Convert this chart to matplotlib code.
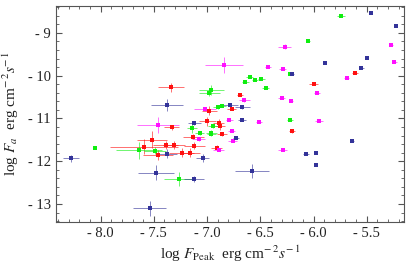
import matplotlib
matplotlib.use('Agg')
import matplotlib.pyplot as plt
from matplotlib.ticker import MultipleLocator, FuncFormatter

plt.rcParams['font.family'] = ['Liberation Serif', 'DejaVu Serif']
plt.rcParams['mathtext.fontset'] = 'stix'

# red sample: log F_peak, log F_a and their errors
red_x = [-5.61, -6.00, -6.69, -6.20, -6.91, -7.34, -7.33, -6.77, -6.98, -7.00, -6.89, -6.88,
         -6.86, -7.52, -7.59, -7.39, -7.46, -7.24, -7.16, -7.12, -7.13, -7.31]
red_y = [-9.93, -10.19, -10.45, -11.30, -11.68, -10.27, -11.21, -10.78, -10.82, -11.07, -11.11, -11.18,
         -11.36, -11.50, -11.66, -11.62, -11.85, -11.80, -11.80, -11.64, -11.43, -11.62]
red_xerr = [0.03, 0.04, 0.03, 0.03, 0.05, 0.12, 0.07, 0.04, 0.07, 0.08, 0.05, 0.05,
            0.05, 0.14, 0.32, 0.12, 0.14, 0.12, 0.09, 0.10, 0.10, 0.10]
red_yerr = [0.0, 0.03, 0.03, 0.03, 0.05, 0.10, 0.05, 0.03, 0.10, 0.10, 0.10, 0.10,
            0.05, 0.20, 0.18, 0.10, 0.12, 0.10, 0.10, 0.08, 0.06, 0.10]

# green sample
green_x = [-5.74, -6.05, -6.22, -6.60, -6.64, -6.55, -6.49, -6.45, -6.22, -6.96, -6.98,
           -6.86, -6.90, -7.14, -6.94, -6.96, -7.07, -6.96, -8.05, -7.64, -7.49, -7.26]
green_y = [-8.60, -9.19, -9.97, -10.02, -10.15, -10.11, -10.07, -10.28, -11.03, -10.33, -10.40,
           -10.70, -10.74, -11.23, -11.18, -11.33, -11.35, -11.36, -11.70, -11.74, -11.75, -12.42]
green_xerr = [0.035, 0.02, 0.02, 0.03, 0.03, 0.03, 0.03, 0.03, 0.03, 0.12, 0.10,
              0.04, 0.04, 0.05, 0.05, 0.05, 0.04, 0.04, 0.0, 0.22, 0.10, 0.14]
green_yerr = [0.0, 0.02, 0.02, 0.03, 0.03, 0.02, 0.02, 0.02, 0.02, 0.12, 0.08,
              0.03, 0.03, 0.10, 0.05, 0.05, 0.04, 0.04, 0.0, 0.20, 0.08, 0.16]

# magenta sample
mag_x = [-6.27, -5.27, -6.84, -6.43, -5.24, -6.29, -5.69, -5.97, -6.65, -6.30, -6.21,
         -5.95, -6.29, -6.89, -6.76, -7.46, -7.02, -6.79, -6.51, -7.08, -6.77]
mag_y = [-9.32, -9.29, -9.75, -9.79, -9.69, -9.85, -10.05, -10.40, -10.57, -10.52, -10.59,
         -11.07, -11.74, -11.73, -11.53, -11.15, -10.78, -11.04, -11.08, -11.49, -11.29]
mag_xerr = [0.06, 0.02, 0.18, 0.03, 0.02, 0.03, 0.02, 0.03, 0.05, 0.03, 0.02,
            0.04, 0.04, 0.05, 0.04, 0.20, 0.10, 0.03, 0.03, 0.06, 0.03]
mag_yerr = [0.05, 0.0, 0.18, 0.02, 0.0, 0.02, 0.0, 0.0, 0.04, 0.0, 0.0,
            0.02, 0.02, 0.03, 0.03, 0.19, 0.05, 0.02, 0.02, 0.04, 0.02]

# blue sample
blue_x = [-5.46, -5.225, -5.89, -5.50, -5.55, -6.20, -5.64, -6.07, -5.98, -5.98, -6.58, -6.73,
          -7.38, -7.12, -6.78, -6.67, -6.67, -8.28, -7.38, -7.48, -7.54, -7.12, -7.04]
blue_y = [-8.54, -8.85, -9.70, -9.58, -9.82, -9.97, -11.52, -11.82, -11.80, -12.10, -12.23, -11.46,
          -10.68, -11.11, -10.68, -10.74, -11.04, -11.93, -11.82, -12.27, -13.10, -12.42, -11.93]
blue_xerr = [0.0, 0.0, 0.0, 0.0, 0.02, 0.02, 0.02, 0.03, 0.0, 0.0, 0.16, 0.03,
             0.15, 0.06, 0.07, 0.07, 0.04, 0.075, 0.10, 0.165, 0.155, 0.095, 0.06]
blue_yerr = [0.0, 0.0, 0.0, 0.0, 0.0, 0.0, 0.0, 0.0, 0.0, 0.0, 0.16, 0.03,
             0.14, 0.05, 0.05, 0.04, 0.03, 0.08, 0.10, 0.18, 0.18, 0.07, 0.10]

fig = plt.figure(figsize=(4.11, 2.71), dpi=100)
ax = fig.add_axes([0.136, 0.181, 0.847, 0.797])

groups = [
    (red_x, red_y, red_xerr, red_yerr, '#ff1010'),
    (green_x, green_y, green_xerr, green_yerr, '#10ee10'),
    (mag_x, mag_y, mag_xerr, mag_yerr, '#ff10ff'),
    (blue_x, blue_y, blue_xerr, blue_yerr, '#333399'),
]
for x, y, xe, ye, c in groups:
    eb = ax.errorbar(x, y, xerr=xe, yerr=ye, fmt='s', color=c, ms=2.6, mew=0,
                     ecolor=c, elinewidth=0.7, capsize=1.5, capthick=0.7)
    for part in eb[1] + eb[2]:
        part.set_alpha(0.6)

ax.set_xlim(-8.42, -5.15)
ax.set_ylim(-13.42, -8.37)

ax.xaxis.set_major_locator(MultipleLocator(0.5))
ax.xaxis.set_minor_locator(MultipleLocator(0.1))
ax.yaxis.set_major_locator(MultipleLocator(1))
ax.yaxis.set_minor_locator(MultipleLocator(0.2))
ax.xaxis.set_major_formatter(FuncFormatter(lambda v, p: '- %.1f' % abs(v)))
ax.yaxis.set_major_formatter(FuncFormatter(lambda v, p: '- %d' % round(abs(v))))

ax.tick_params(which='both', direction='in', top=True, right=True, colors='#555555',
               labelcolor='#222222', labelsize=10.5)
ax.tick_params(which='major', length=4.5, width=0.8)
ax.tick_params(which='minor', length=2.5, width=0.6)
for s in ax.spines.values():
    s.set_color('#555555')
    s.set_linewidth(0.8)

ax.set_xlabel(r'log $F_{\rm Peak}$  erg cm$^{-\,2}s^{-\,1}$', fontsize=11, color='#222222', labelpad=3)
ax.set_ylabel(r'log $F_a$  erg cm$^{-\,2}s^{-\,1}$', fontsize=11, color='#222222', labelpad=5)

fig.savefig('out.png', dpi=100)
